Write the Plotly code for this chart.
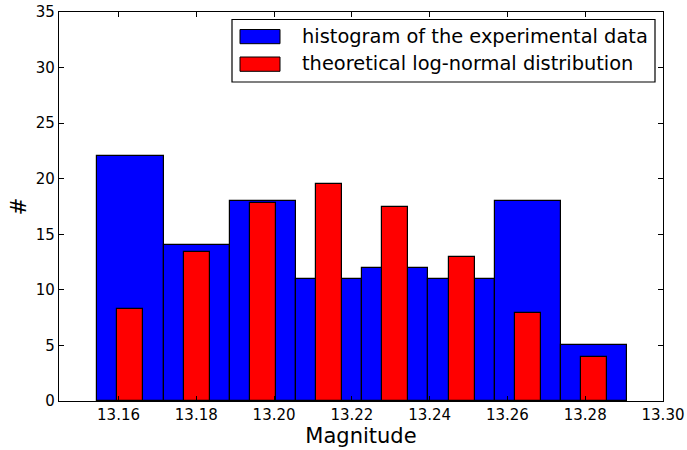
import plotly.graph_objects as go

# Histogram bin edges (magnitude) and counts per bin
bin_edges = [13.15454, 13.17157, 13.18860, 13.20563, 13.22266,
             13.23970, 13.25673, 13.27376, 13.29079]
experimental_counts = [22, 14, 18, 11, 12, 11, 18, 5]
theoretical_counts = [8.3, 13.4, 17.8, 19.5, 17.5, 13.0, 7.9, 4.0]

x_tick_values = [13.16, 13.18, 13.20, 13.22, 13.24, 13.26, 13.28, 13.30]
x_tick_labels = ["13.16", "13.18", "13.20", "13.22", "13.24", "13.26", "13.28", "13.30"]
y_tick_values = [0, 5, 10, 15, 20, 25, 30, 35]

legend_labels = ["histogram of the experimental data",
                 "theoretical log-normal distribution"]

centers = [(a + b) / 2 for a, b in zip(bin_edges[:-1], bin_edges[1:])]
widths = [b - a for a, b in zip(bin_edges[:-1], bin_edges[1:])]
narrow = [w * 0.39 for w in widths]

FONT = "DejaVu Sans"
W, H = 687, 450
L, R, T, B = 59, 24, 12, 49
plot_w = W - L - R
plot_h = H - T - B


def px_x(px):
    return (px - L) / plot_w


def px_y(py):
    return (H - B - py) / plot_h


fig = go.Figure()
fig.add_trace(go.Bar(
    x=centers, y=experimental_counts, width=widths,
    marker=dict(color="#0000ff", line=dict(color="black", width=1.2)),
    name=legend_labels[0], showlegend=False,
))
fig.add_trace(go.Bar(
    x=centers, y=theoretical_counts, width=narrow,
    marker=dict(color="#ff0000", line=dict(color="black", width=1.2)),
    name=legend_labels[1], showlegend=False,
))

# Legend box drawn in paper coordinates
shapes = [
    dict(type="rect", xref="paper", yref="paper",
         x0=px_x(232), x1=px_x(655), y0=px_y(82), y1=px_y(19.5),
         line=dict(color="black", width=1.2), fillcolor="white"),
]
annotations = []
rows = [("#0000ff", 29.5, 43.7, legend_labels[0]),
        ("#ff0000", 57.0, 71.3, legend_labels[1])]
for color, top, bottom, label in rows:
    shapes.append(dict(type="rect", xref="paper", yref="paper",
                       x0=px_x(240), x1=px_x(280), y0=px_y(bottom), y1=px_y(top),
                       line=dict(color="black", width=1), fillcolor=color))
    annotations.append(dict(xref="paper", yref="paper",
                            x=px_x(300), y=px_y((top + bottom) / 2 - 0.5),
                            xanchor="left", yanchor="middle", showarrow=False,
                            text=label, font=dict(family=FONT, size=19.4, color="black")))

axis_common = dict(
    showline=True, linecolor="black", linewidth=1.3, mirror="ticks",
    ticks="inside", ticklen=5, tickwidth=1, tickcolor="black",
    showgrid=False, zeroline=False, automargin=False,
    tickfont=dict(family=FONT, size=15, color="black"),
)

fig.update_layout(
    width=W, height=H,
    margin=dict(l=L, r=R, t=T, b=B, pad=0),
    paper_bgcolor="white", plot_bgcolor="white",
    barmode="overlay", bargap=0,
    shapes=shapes, annotations=annotations,
    xaxis=dict(range=[13.1447, 13.300], tickvals=x_tick_values, ticktext=x_tick_labels,
               ticklabelstandoff=0,
               title=dict(text="Magnitude", font=dict(family=FONT, size=21, color="black"),
                          standoff=0),
               **axis_common),
    yaxis=dict(range=[0, 35], tickvals=y_tick_values,
               title=dict(text="#", font=dict(family=FONT, size=21, color="black"),
                          standoff=3),
               **axis_common),
)

fig.write_html("out.html")
